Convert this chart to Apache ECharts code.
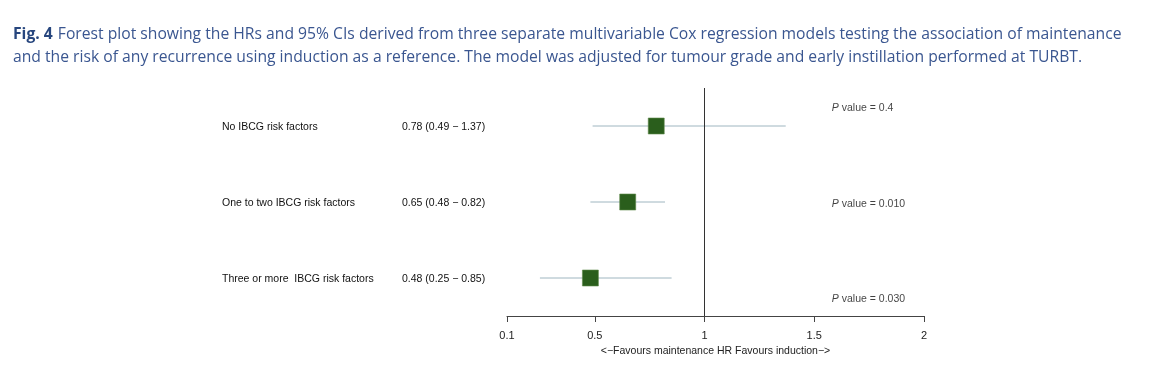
<!DOCTYPE html>
<html>
<head>
<meta charset="utf-8">
<script src="https://cdn.jsdelivr.net/npm/echarts@6/dist/echarts.min.js"></script>
<style>
  html, body { margin: 0; padding: 0; background: #fff; }
  #chart { width: 1152px; height: 376px; }
</style>
</head>
<body>
<div id="chart"></div>
<script>
// rows, top to bottom
const groups = ["No IBCG risk factors", "One to two IBCG risk factors", "Three or more  IBCG risk factors"];
const hr = [0.78, 0.65, 0.48];
const lower = [0.49, 0.48, 0.25];
const upper = [1.37, 0.82, 0.85];
const pValues = ["0.4", "0.010", "0.030"];
const xTicks = [0.1, 0.5, 1, 1.5, 2];

// p value labels sit a bit off the row centre
const pShift = [-18, 2, 21];

const chart = echarts.init(document.getElementById("chart"));

chart.setOption({
  animation: false,
  textStyle: { fontFamily: "Liberation Sans, Arial, sans-serif" },
  title: {
    left: 8,
    top: 18,
    text: "{b|Fig. 4} {t|Forest plot showing the HRs and 95% CIs derived from three separate multivariable Cox regression models testing the association of maintenance}\n{t|and the risk of any recurrence using induction as a reference. The model was adjusted for tumour grade and early instillation performed at TURBT.}",
    textStyle: {
      fontWeight: "normal",
      rich: {
        b: { fontFamily: "Open Sans", fontWeight: "bold", fontSize: 15.7, color: "#27467e", lineHeight: 23 },
        t: { fontFamily: "Open Sans", fontWeight: "normal", fontSize: 15.7, color: "#3a5690", lineHeight: 23 }
      }
    }
  },
  grid: { left: 507, right: 228, top: 88, bottom: 60 },
  xAxis: {
    type: "value",
    min: 0.1,
    max: 2,
    splitLine: { show: false },
    axisLine: { show: true, lineStyle: { color: "#444", width: 1 } },
    axisTick: { show: true, length: 6, customValues: xTicks, lineStyle: { color: "#444" } },
    axisLabel: { customValues: xTicks, color: "#222", fontSize: 11, margin: 14 },
    name: "<\u2212Favours maintenance HR Favours induction\u2212>",
    nameLocation: "middle",
    nameGap: 25,
    nameTextStyle: { color: "#222", fontSize: 10.5 }
  },
  yAxis: {
    type: "category",
    inverse: true,
    data: groups,
    axisLine: { show: false },
    axisTick: { show: false },
    axisLabel: {
      align: "left",
      margin: 285,
      formatter: function (v, i) {
        return "{n|" + v + "}{v|" + hr[i].toFixed(2) + " (" + lower[i].toFixed(2) + " \u2212 " + upper[i].toFixed(2) + ")}";
      },
      rich: {
        n: { width: 180, fontSize: 10.5, color: "#111", padding: [2, 0, 0, 0] },
        v: { fontSize: 10.5, color: "#111", padding: [2, 0, 0, 0] }
      }
    }
  },
  series: [
    {
      type: "custom",
      data: groups.map((g, i) => [lower[i], upper[i], i]),
      renderItem: function (params, api) {
        const a = api.coord([api.value(0), api.value(2)]);
        const b = api.coord([api.value(1), api.value(2)]);
        return {
          type: "line",
          shape: { x1: a[0], y1: a[1], x2: b[0], y2: b[1] },
          style: { stroke: "#9fb6c0", lineWidth: 1 }
        };
      },
      z: 1
    },
    {
      type: "scatter",
      symbol: "rect",
      symbolSize: 16,
      data: groups.map((g, i) => [hr[i], i]),
      itemStyle: { color: "#2a5e1c", borderColor: "#5f8a4c", borderWidth: 0.6, opacity: 1 },
      z: 3,
      markLine: {
        silent: true,
        symbol: "none",
        label: { show: false },
        lineStyle: { color: "#333", width: 1, type: "solid" },
        data: [{ xAxis: 1 }]
      }
    },
    {
      type: "scatter",
      symbolSize: 0,
      data: groups.map((g, i) => ({
        value: [1.58, i],
        label: { offset: [0, pShift[i]] }
      })),
      label: {
        show: true,
        position: "right",
        distance: 0,
        formatter: function (p) {
          return "{i|P}{t| value = " + pValues[p.dataIndex] + "}";
        },
        rich: {
          i: { fontStyle: "italic", fontSize: 10.5, color: "#111" },
          t: { fontSize: 10.5, color: "#111" }
        }
      },
      z: 4
    }
  ]
});
</script>
</body>
</html>
